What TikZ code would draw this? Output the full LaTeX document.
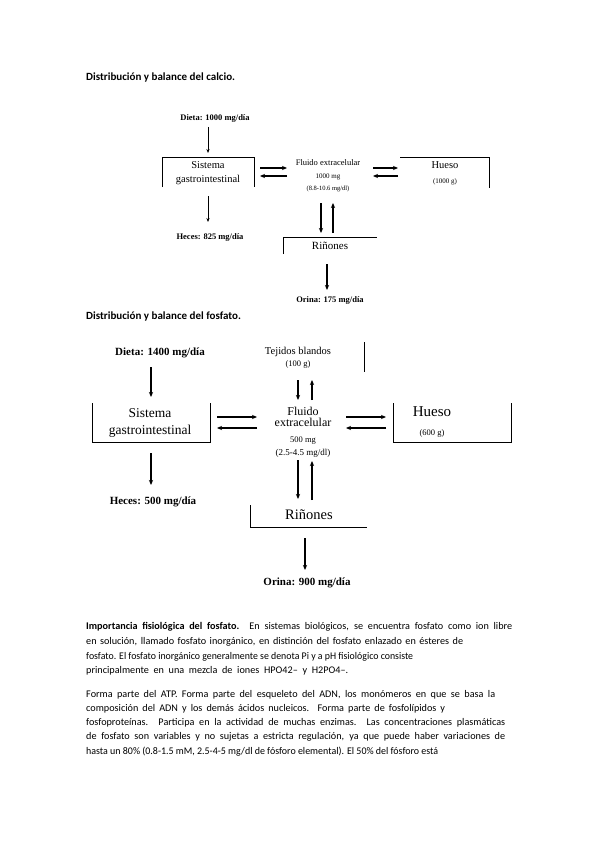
\documentclass[tikz,border=0pt]{standalone}
\usepackage{fontspec}
\usepackage{graphicx}
\setmainfont{Liberation Serif}
\newfontfamily\calfont{Carlito}
\usetikzlibrary{arrows.meta}
\newcommand{\fs}[1]{\fontsize{#1}{#1}\selectfont}
\newcommand{\bodyline}[2]{\setbox0=\hbox{#2}\ifdim\wd0>#1pt\relax\resizebox{#1pt}{\height}{\box0}\else\makebox[#1pt][s]{#2}\fi}
\tikzset{
  txt/.style={inner sep=0, text height=0.68em, text depth=0.18em},
  ltxt/.style={txt, anchor=west},
  thinarr/.style={line width=0.8pt, -{Stealth[length=4pt,width=3.2pt]}},
  thickarr/.style={line width=1.7pt, -{Stealth[length=5pt,width=4.2pt]}},
  boxline/.style={line width=0.8pt},
  body/.style={ltxt, font=\calfont\fs{10.2}},
}
\begin{document}
\begin{tikzpicture}[x=1pt,y=-1pt]
\useasboundingbox[fill=white] (0,0) rectangle (599,848);

% ---------- Titles ----------
\node[ltxt, font=\calfont\bfseries\fs{11}] (t1) at (86,78) {Distribución y balance del calcio.};
\node[ltxt, font=\calfont\bfseries\fs{11}] (t2) at (86,317) {Distribución y balance del fosfato.};

% ---------- Calcium diagram ----------
\node[txt, font=\bfseries\fs{8.5}] (cdieta) at (215,118) {Dieta: 1000 mg/día};
\coordinate (cdietaA) at (208,127);
\coordinate (csisT) at (208,153);
\draw[thinarr] (cdietaA) -- (csisT);

\draw[boxline] (162,187) -- (162,157) -- (254,157) -- (254,187);
\node[txt, font=\fs{10.5}] (csis1) at (208,166) {Sistema};
\node[txt, font=\fs{10.5}] (csis2) at (208,180) {gastrointestinal};

\coordinate (cs1) at (260,168); \coordinate (cf1) at (287,168);
\coordinate (cs2) at (260,176); \coordinate (cf2) at (287,176);
\draw[thickarr] (cs1) -- (cf1);
\draw[thickarr] (cf2) -- (cs2);

\node[txt, font=\fs{8.5}] (cflu1) at (328,163) {Fluido extracelular};
\node[txt, font=\fs{7}] (cflu2) at (328,176) {1000 mg};
\node[txt, font=\fs{6.5}] (cflu3) at (328,188) {(8.8-10.6 mg/dl)};

\coordinate (cf3) at (373,168); \coordinate (ch1) at (398,168);
\coordinate (cf4) at (373,176); \coordinate (ch2) at (398,176);
\draw[thickarr] (cf3) -- (ch1);
\draw[thickarr] (ch2) -- (cf4);

\draw[boxline] (400,157) -- (489,157) -- (489,188);
\node[txt, font=\fs{10.5}] (chue1) at (445,166) {Hueso};
\node[txt, font=\fs{7}] (chue2) at (445,181) {(1000 g)};

\coordinate (csisB) at (208,196); \coordinate (checT) at (208,222);
\draw[thinarr] (csisB) -- (checT);
\node[txt, font=\bfseries\fs{8.5}] (checes) at (210,237) {Heces: 825 mg/día};

\coordinate (cfd1) at (321,203); \coordinate (crd1) at (321,233);
\coordinate (cfd2) at (333,203); \coordinate (crd2) at (333,233);
\draw[thickarr] (cfd1) -- (crd1);
\draw[thickarr] (crd2) -- (cfd2);

\draw[boxline] (283,254) -- (283,237) -- (377,237);
\node[txt, font=\fs{11}] (crin) at (330,247) {Riñones};

\coordinate (crinB) at (327,264); \coordinate (corT) at (327,290);
\draw[thickarr] (crinB) -- (corT);
\node[txt, font=\bfseries\fs{8.5}] (corina) at (330,300) {Orina: 175 mg/día};

% ---------- Phosphate diagram ----------
\node[txt, font=\bfseries\fs{11}] (pdieta) at (160,353) {Dieta: 1400 mg/día};
\coordinate (pdietaA) at (151,367); \coordinate (psisT) at (151,397);
\draw[thickarr] (pdietaA) -- (psisT);

\node[txt, font=\fs{10.5}] (ptej1) at (298,352) {Tejidos blandos};
\node[txt, font=\fs{8.5}] (ptej2) at (298,364) {(100 g)};
\draw[boxline] (364,342) -- (364,372);

\coordinate (ptd1) at (298,380); \coordinate (pfd1) at (298,400);
\coordinate (ptd2) at (312,380); \coordinate (pfd2) at (312,400);
\draw[thickarr] (ptd1) -- (pfd1);
\draw[thickarr] (pfd2) -- (ptd2);

\draw[boxline] (92,403) -- (92,442) -- (210,442) -- (210,403);
\node[txt, font=\fs{13.5}] (psis1) at (150,415) {Sistema};
\node[txt, font=\fs{13.5}] (psis2) at (150,432) {gastrointestinal};

\coordinate (ps1) at (217,417); \coordinate (pf1) at (257,417);
\coordinate (ps2) at (217,428); \coordinate (pf2) at (257,428);
\draw[thickarr] (ps1) -- (pf1);
\draw[thickarr] (pf2) -- (ps2);

\node[txt, font=\fs{12}] (pflu1) at (303,413) {Fluido};
\node[txt, font=\fs{12}] (pflu2) at (303,424) {extracelular};
\node[txt, font=\fs{8.5}] (pflu3) at (303,440) {500 mg};
\node[txt, font=\fs{9}] (pflu4) at (303,453) {(2.5-4.5 mg/dl)};

\coordinate (pf3) at (346,417); \coordinate (ph1) at (386,417);
\coordinate (pf4) at (346,428); \coordinate (ph2) at (386,428);
\draw[thickarr] (pf3) -- (ph1);
\draw[thickarr] (ph2) -- (pf4);

\draw[boxline] (393,403) -- (393,442) -- (511,442) -- (511,403);
\node[txt, font=\fs{15}] (phue1) at (432,414) {Hueso};
\node[txt, font=\fs{8.5}] (phue2) at (432,433) {(600 g)};

\coordinate (psisB) at (151,453); \coordinate (phecT) at (151,485);
\draw[thickarr] (psisB) -- (phecT);
\node[txt, font=\bfseries\fs{11}] (pheces) at (153,502) {Heces: 500 mg/día};

\coordinate (pfd3) at (298,460); \coordinate (prd1) at (298,499);
\coordinate (pfd4) at (312,461); \coordinate (prd2) at (312,500);
\draw[thickarr] (pfd3) -- (prd1);
\draw[thickarr] (prd2) -- (pfd4);

\draw[boxline] (250,505) -- (250,527) -- (367,527);
\node[txt, font=\fs{14.5}] (prin) at (309,517) {Riñones};

\coordinate (prinB) at (305,538); \coordinate (porT) at (305,570);
\draw[thickarr] (prinB) -- (porT);
\node[txt, font=\bfseries\fs{11}] (porina) at (307,583) {Orina: 900 mg/día};

% ---------- Body text ----------
\node[body] (b1) at (86,627) {\bodyline{426}{\textbf{Importancia fisiológica del fosfato.} En sistemas biológicos, se encuentra fosfato como ion libre}};
\node[body] (b2) at (86,642) {\bodyline{377}{en solución, llamado fosfato inorgánico, en distinción del fosfato enlazado en ésteres de}};
\node[body] (b3) at (86,657) {\bodyline{327}{fosfato. El fosfato inorgánico generalmente se denota Pi y a pH fisiológico consiste}};
\node[body] (b4) at (86,671) {\bodyline{262}{principalmente en una mezcla de iones HPO42– y H2PO4–.}};

\node[body] (c1) at (86,695) {\bodyline{409}{Forma parte del ATP. Forma parte del esqueleto del ADN, los monómeros en que se basa la}};
\node[body] (c2) at (86,709) {\bodyline{359}{composición del ADN y los demás ácidos nucleicos. Forma parte de fosfolípidos y}};
\node[body] (c3) at (86,723) {\bodyline{419}{fosfoproteínas. Participa en la actividad de muchas enzimas. Las concentraciones plasmáticas}};
\node[body] (c4) at (86,737) {\bodyline{419}{de fosfato son variables y no sujetas a estricta regulación, ya que puede haber variaciones de}};
\node[body] (c5) at (86,752) {\bodyline{352}{hasta un 80\% (0.8-1.5 mM, 2.5-4-5 mg/dl de fósforo elemental). El 50\% del fósforo está}};
\end{tikzpicture}
\end{document}
